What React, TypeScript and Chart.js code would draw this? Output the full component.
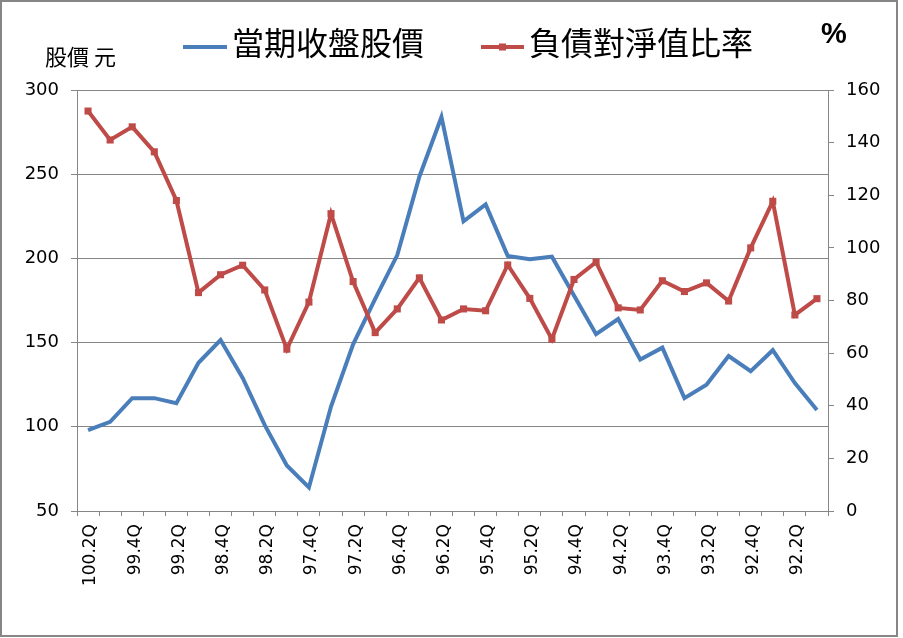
import React, { useEffect, useRef } from "react";
import { Chart, registerables } from "chart.js";

Chart.register(...registerables);

const categories = [
  "100.2Q", "100.1Q", "99.4Q", "99.3Q", "99.2Q", "99.1Q", "98.4Q", "98.3Q", "98.2Q", "98.1Q",
  "97.4Q", "97.3Q", "97.2Q", "97.1Q", "96.4Q", "96.3Q", "96.2Q", "96.1Q", "95.4Q", "95.3Q",
  "95.2Q", "95.1Q", "94.4Q", "94.3Q", "94.2Q", "94.1Q", "93.4Q", "93.3Q", "93.2Q", "93.1Q",
  "92.4Q", "92.3Q", "92.2Q", "92.1Q",
];

const closingPrice = [
  98, 103, 117, 117, 114, 138, 151.5, 129, 101, 77,
  64, 112, 149, 176, 202, 248.5, 284, 222, 232, 201.5,
  199.5, 201, 178, 155, 164, 140, 147, 117, 125, 142,
  133, 145.5, 126, 110,
];

const debtRatio = [
  152, 141, 146, 136.5, 118, 83, 89.8, 93.4, 84, 61.5,
  79.4, 113, 87.2, 67.8, 76.8, 88.6, 72.6, 76.8, 76.1, 93.5,
  80.8, 65.3, 88, 94.6, 77.2, 76.4, 87.5, 83.4, 86.7, 79.8,
  100, 117.7, 74.5, 80.7,
];

const priceLabel = "當期收盤股價";
const ratioLabel = "負債對淨值比率";
const leftTitle = "股價 元";
const rightTitle = "%";

const BLUE = "#4A7EBB";
const RED = "#BE4B48";
const GRID = "#868686";
const W = 903;
const H = 638;

const overlayPlugin = {
  id: "overlay",
  afterDraw(chart: any) {
    const ctx = chart.ctx;
    ctx.save();
    // border
    ctx.strokeStyle = GRID;
    ctx.lineWidth = 2;
    ctx.strokeRect(1, 1, 896, 635);

    // legend
    ctx.lineCap = "butt";
    ctx.lineWidth = 4;
    ctx.strokeStyle = BLUE;
    ctx.beginPath();
    ctx.moveTo(183, 47);
    ctx.lineTo(227, 47);
    ctx.stroke();

    ctx.strokeStyle = RED;
    ctx.beginPath();
    ctx.moveTo(481, 47);
    ctx.lineTo(524, 47);
    ctx.stroke();
    ctx.fillStyle = RED;
    ctx.fillRect(499, 43.5, 7, 7);

    ctx.fillStyle = "#000";
    ctx.textBaseline = "middle";
    ctx.textAlign = "left";
    ctx.font = '32px "Noto Sans CJK TC"';
    ctx.fillText(priceLabel, 232, 43);
    ctx.fillText(ratioLabel, 529, 43);

    ctx.font = '22px "Noto Sans CJK TC"';
    ctx.fillText(leftTitle, 45, 57);

    ctx.font = 'bold 29px "Liberation Sans"';
    ctx.fillText(rightTitle, 821, 35);
    ctx.restore();
  },
};

export default function App() {
  const ref = useRef<HTMLCanvasElement | null>(null);
  useEffect(() => {
    if (!ref.current) return;
    const chart = new Chart(ref.current, {
      type: "line",
      data: {
        labels: categories,
        datasets: [
          {
            label: priceLabel,
            data: closingPrice,
            yAxisID: "y",
            borderColor: BLUE,
            backgroundColor: BLUE,
            borderWidth: 4,
            pointRadius: 0,
            tension: 0,
            order: 1,
          },
          {
            label: ratioLabel,
            data: debtRatio,
            yAxisID: "y1",
            borderColor: RED,
            backgroundColor: RED,
            borderWidth: 4,
            pointStyle: "rect",
            pointRadius: 5,
            pointBorderWidth: 0,
            pointBackgroundColor: RED,
            tension: 0,
            order: 0,
          },
        ],
      },
      options: {
        responsive: false,
        animation: false,
        devicePixelRatio: 1,
        layout: { padding: { top: 90, left: 0, right: 0, bottom: 0 } },
        plugins: {
          legend: { display: false },
          tooltip: { enabled: false },
          title: { display: false },
        },
        scales: {
          x: {
            type: "category",
            offset: true,
            grid: {
              offset: true,
              drawOnChartArea: false,
              drawTicks: true,
              tickLength: 5,
              color: GRID,
            },
            border: { color: GRID, width: 1 },
            ticks: {
              autoSkip: false,
              maxRotation: 90,
              minRotation: 90,
              padding: 8,
              labelOffset: 3,
              color: "#000",
              font: { family: "DejaVu Sans", size: 17 },
              callback: (_v: any, i: number) => (i % 2 === 0 ? categories[i] : ""),
            },
            afterFit: (s: any) => {
              s.height = 127;
            },
          },
          y: {
            position: "left",
            min: 50,
            max: 300,
            grid: { color: GRID, tickLength: 6, lineWidth: 1 },
            border: { color: GRID, width: 1 },
            ticks: {
              stepSize: 50,
              padding: 12,
              color: "#000",
              font: { family: "DejaVu Sans", size: 18 },
            },
            afterFit: (s: any) => {
              s.width = 77;
            },
          },
          y1: {
            position: "right",
            min: 0,
            max: 160,
            grid: { drawOnChartArea: false, color: GRID, tickLength: 6 },
            border: { color: GRID, width: 1 },
            ticks: {
              stepSize: 20,
              padding: 12,
              color: "#000",
              font: { family: "DejaVu Sans", size: 18 },
            },
            afterFit: (s: any) => {
              s.width = W - 828;
            },
          },
        },
      },
      plugins: [overlayPlugin],
    });
    return () => chart.destroy();
  }, []);

  return (
    <div style={{ position: "absolute", left: 0, top: 0, width: W, height: H, background: "#fff" }}>
      <canvas ref={ref} width={W} height={H} style={{ width: W, height: H, display: "block" }} />
    </div>
  );
}
